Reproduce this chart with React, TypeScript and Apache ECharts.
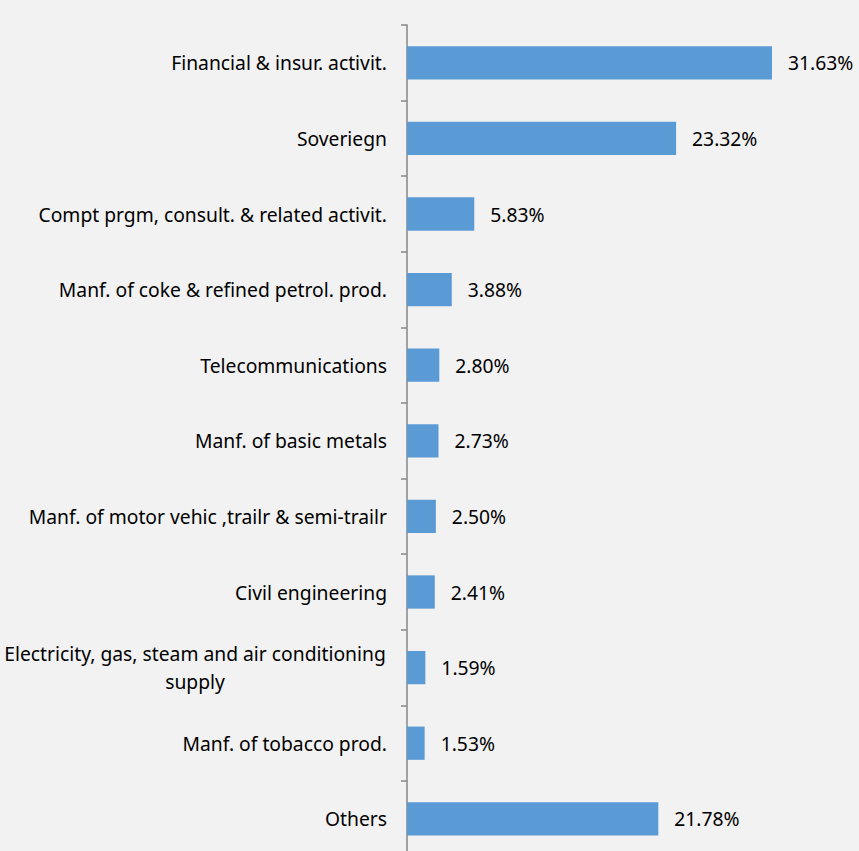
import React, { useEffect, useRef } from "react";
import * as echarts from "echarts";

const categories: string[] = [
  "Financial & insur. activit.",
  "Soveriegn",
  "Compt prgm, consult. & related activit.",
  "Manf. of coke & refined petrol. prod.",
  "Telecommunications",
  "Manf. of basic metals",
  "Manf. of motor vehic ,trailr & semi-trailr",
  "Civil engineering",
  "Electricity, gas, steam and air conditioning supply",
  "Manf. of tobacco prod.",
  "Others",
];

const shares: number[] = [31.63, 23.32, 5.83, 3.88, 2.8, 2.73, 2.5, 2.41, 1.59, 1.53, 21.78];

const FONT = "Noto Sans";
const FS = 19.3;
const WRAP_AT = "Electricity, gas, steam and air conditioning";

function measure(text: string): number {
  const c = document.createElement("canvas");
  const ctx = c.getContext("2d");
  if (!ctx) return text.length * FS * 0.5;
  ctx.font = `${FS}px "${FONT}"`;
  return ctx.measureText(text).width;
}

export default function App() {
  const ref = useRef<HTMLDivElement>(null);
  useEffect(() => {
    if (!ref.current) return;
    const chart = echarts.init(ref.current, undefined, { renderer: "svg" });
    const wrapW = Math.ceil(measure(WRAP_AT)) + 2;
    chart.setOption({
      animation: false,
      backgroundColor: "#F2F2F2",
      grid: { left: 407, top: 25, width: 415.4, height: 831.6 },
      xAxis: {
        type: "value",
        min: 0,
        max: 36,
        show: false,
        splitLine: { show: false },
      },
      yAxis: {
        type: "category",
        data: categories,
        inverse: true,
        axisLine: { show: true, lineStyle: { color: "#868686", width: 1.5 } },
        axisTick: { show: true, length: 6, lineStyle: { color: "#868686", width: 1.5 } },
        axisLabel: {
          margin: 20,
          color: "#000",
          fontFamily: FONT,
          fontSize: FS,
          formatter: (v: string) => {
            if (v.startsWith(WRAP_AT)) {
              const rest = v.slice(WRAP_AT.length).trim();
              return `{c|${WRAP_AT}}\n{c|${rest}}`;
            }
            return v;
          },
          rich: {
            c: {
              width: wrapW,
              align: "center",
              fontFamily: FONT,
              fontSize: FS,
              color: "#000",
              lineHeight: 28,
            },
          },
        },
      },
      series: [
        {
          type: "bar",
          data: shares,
          barCategoryGap: "56%",
          itemStyle: { color: "#5B9BD5" },
          label: {
            show: true,
            position: "right",
            distance: 16,
            color: "#000",
            fontFamily: FONT,
            fontSize: FS,
            formatter: (p: any) => `${Number(p.value).toFixed(2)}%`,
          },
        },
      ],
    });
    return () => chart.dispose();
  }, []);
  return (
    <div
      style={{
        position: "fixed",
        left: 0,
        top: 0,
        width: 859,
        height: 851,
        overflow: "hidden",
        background: "#F2F2F2",
      }}
    >
      <div ref={ref} style={{ width: 859, height: 862 }} />
    </div>
  );
}
